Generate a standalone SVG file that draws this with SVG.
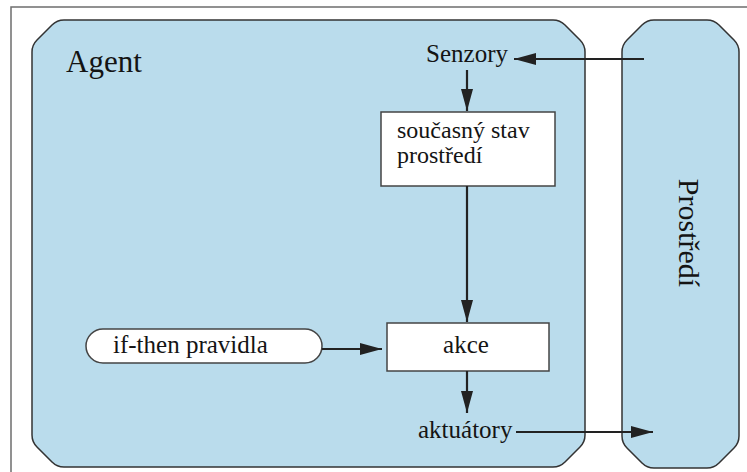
<svg xmlns="http://www.w3.org/2000/svg" width="747" height="472" viewBox="0 0 747 472">
  <style>
    .frame { fill: none; stroke: #6e6e6e; stroke-width: 1.5; }
    .region { fill: #badcec; stroke: #333; stroke-width: 1.5; }
    .box { fill: #ffffff; stroke: #444; stroke-width: 1.5; }
    .lbl { font-family: "Liberation Serif", "Times New Roman", serif; font-size: 25px; fill: #141414; }
    .conn { fill: none; stroke: #222; stroke-width: 2.2; marker-end: url(#arrow); }
  </style>
  <defs>
    <marker id="arrow" markerUnits="userSpaceOnUse" markerWidth="24" markerHeight="14" refX="22" refY="6" orient="auto">
      <path d="M0,0 L22,6 L0,12 Z" fill="#222"/>
    </marker>
  </defs>
  <rect width="747" height="472" fill="#ffffff"/>
  <rect class="frame" x="11" y="7" width="800" height="500"/>

  <g id="agent">
    <path class="region" d="M64,20 H553 Q560,20 565,25 L580,40 Q585,45 585,52 V435 Q585,442 580,447 L565,462 Q560,467 553,467 H64 Q57,467 52,462 L37,447 Q32,442 32,435 V52 Q32,45 37,40 L52,25 Q57,20 64,20 Z"/>
    <text class="lbl" font-family="Liberation Serif, serif" x="66" y="72" style="font-size:31px">Agent</text>
  </g>

  <g id="prostredi-env">
    <path class="region" d="M654,20 H707 Q714,20 719,25 L734,40 Q739,45 739,52 V436 Q739,443 734,448 L719,463 Q714,468 707,468 H654 Q647,468 642,463 L627,448 Q622,443 622,436 V52 Q622,45 627,40 L642,25 Q647,20 654,20 Z"/>
    <text class="lbl" font-family="Liberation Serif, serif" text-anchor="middle" transform="translate(679,233) rotate(90)" style="font-size:30px">Prostředí</text>
  </g>

  <g id="senzory">
    <text class="lbl" font-family="Liberation Serif, serif" x="467" y="62" text-anchor="middle">Senzory</text>
  </g>

  <g id="stav">
    <rect class="box" x="381" y="112" width="174" height="74"/>
    <text class="lbl" font-family="Liberation Serif, serif" x="397" y="138" style="font-size:24px">současný stav</text>
    <text class="lbl" font-family="Liberation Serif, serif" x="397" y="163" style="font-size:24px">prostředí</text>
  </g>

  <g id="pravidla">
    <rect class="box" x="86" y="329" width="236" height="34" rx="17" ry="17"/>
    <text class="lbl" font-family="Liberation Serif, serif" x="113" y="353">if-then pravidla</text>
  </g>

  <g id="akce">
    <rect class="box" x="387" y="323" width="162" height="48"/>
    <text class="lbl" font-family="Liberation Serif, serif" x="466" y="353" text-anchor="middle">akce</text>
  </g>

  <g id="aktuatory">
    <text class="lbl" font-family="Liberation Serif, serif" x="418" y="438">aktuátory</text>
  </g>

  <g id="connectors">
    <path class="conn" d="M644,59 L514,59"/>
    <path class="conn" d="M467,70 L467,111"/>
    <path class="conn" d="M467,186 L467,322"/>
    <path class="conn" d="M322,349 L382,349"/>
    <path class="conn" d="M467,371 L467,413"/>
    <path class="conn" d="M516,432 L653,432"/>
  </g>
</svg>
